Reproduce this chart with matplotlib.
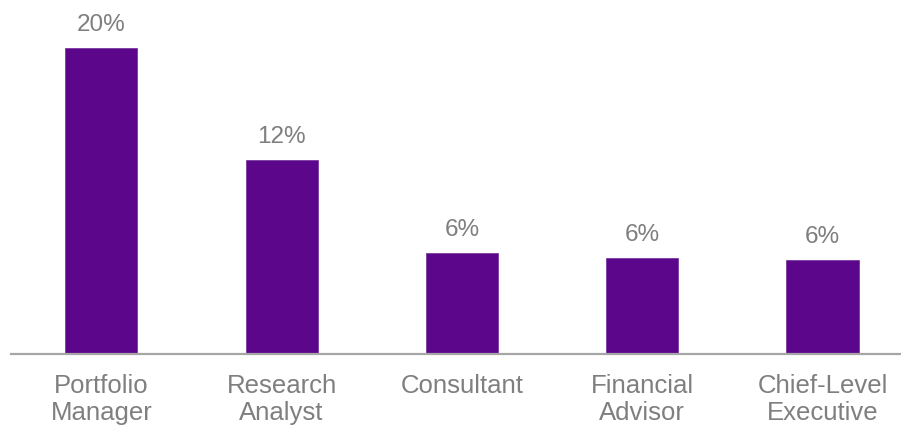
import matplotlib
matplotlib.use("Agg")
import matplotlib.pyplot as plt

categories = ["Portfolio\nManager", "Research\nAnalyst", "Consultant", "Financial\nAdvisor", "Chief-Level\nExecutive"]
values = [19.6, 12.45, 6.48, 6.17, 6.0]
value_labels = ["20%", "12%", "6%", "6%", "6%"]

plt.rcParams['font.family'] = ['Liberation Sans', 'DejaVu Sans']

W, H = 901, 429
fig = plt.figure(figsize=(W / 100, H / 100), dpi=100)
left_px, right_px = 11.2, 912.6
base_px, top_px = 353.7, 10.0
ax = fig.add_axes([left_px / W, 1 - base_px / H, (right_px - left_px) / W, (base_px - top_px) / H])

x = list(range(len(categories)))
bars = ax.bar(x, values, width=0.4, color='#5c068c', edgecolor='#7a3aa0', linewidth=0.6)
ymax = values[0] * (base_px - top_px) / (base_px - 48.3)
ax.set_xlim(-0.5, len(categories) - 0.5)
ax.set_ylim(0, ymax)

for xi, v, lab in zip(x, values, value_labels):
    ax.annotate(lab, (xi, v), xytext=(0, 12.2), textcoords='offset points',
                ha='center', va='baseline', fontsize=17.5, color='#7f7f7f')

for s in ['top', 'right', 'left']:
    ax.spines[s].set_visible(False)
ax.spines['bottom'].set_color('#a6a6a6')
ax.spines['bottom'].set_linewidth(1.6)
ax.set_yticks([])
ax.set_xticks(x)
ax.set_xticklabels(categories, fontsize=18.5, color='#7f7f7f', linespacing=1.18)
ax.tick_params(axis='x', length=0, pad=14.5)

fig.savefig('out.png', dpi=100)
